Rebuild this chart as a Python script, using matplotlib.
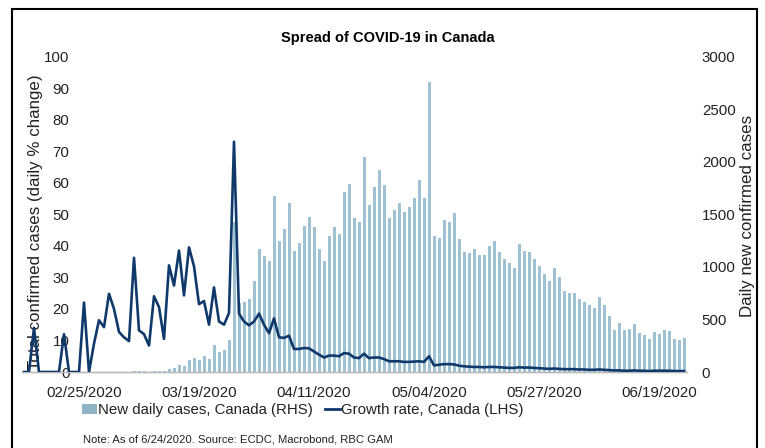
"""
Spread of COVID-19 in Canada: daily new cases (bars, RHS) and
daily growth rate of total confirmed cases (line, LHS).
"""

import matplotlib
matplotlib.use("Agg")
import matplotlib.pyplot as plt
import matplotlib.dates as mdates
from matplotlib.lines import Line2D
from matplotlib.patches import Patch
import pandas as pd

# ──────────────────────────────────────────────────────────────
# Data (13 Feb – 24 Jun 2020)
# ──────────────────────────────────────────────────────────────
start_date = "2020-02-13"
end_date = "2020-06-24"

new_cases = [
    0, 0, 1, 0, 0, 0, 0, 0, 1, 0, 0, 0, 2, 0,
    1, 2, 2, 4, 4, 3, 3, 3,
    12, 5, 5, 4, 12, 13, 8, 30, 35, 62, 55,
    111, 133, 111, 155, 123, 259, 190, 212, 307, 1430,
    660, 664, 693, 867, 1167, 1107, 1056, 1673, 1246, 1360,
    1610, 1154, 1230, 1389, 1471, 1382, 1167, 1060, 1297, 1382,
    1313, 1714, 1787, 1461, 1430, 2046, 1588, 1762, 1920, 1778,
    1461, 1540, 1604, 1525, 1572, 1651, 1825, 1651, 2758, 1294,
    1272, 1445, 1423, 1509, 1262, 1139, 1129, 1170, 1113, 1115,
    1195, 1243, 1138, 1075, 1037, 989, 1217, 1154, 1138, 1075,
    1011, 932, 869, 989, 903, 773, 751, 751, 697, 666,
    634, 609, 713, 634, 536, 403, 466, 396, 409, 460,
    371, 352, 314, 377, 361, 403, 387, 314, 307, 320,
]

growth_rate = [
    0, 0, 14, 0, 0, 0, 0, 0, 12, 0, 0, 0, 22, 0,
    9, 16.4, 14.2, 24.8, 20, 12.7, 11, 9.8,
    36.2, 13.2, 12, 8.4, 24, 20.6, 10.5, 33.8, 27.4, 38.5, 24.3,
    39.5, 33.5, 21.5, 22.5, 15, 26.8, 16, 15, 18.7, 73,
    18.5, 16, 14.8, 16, 18.5, 15, 12.3, 17, 11, 10.8,
    11.5, 7.3, 7.3, 7.6, 7.5, 6.5, 5.5, 4.6, 5.2, 5.2,
    5.0, 6.0, 5.8, 4.6, 4.4, 5.8, 4.4, 4.6, 4.6, 4.1,
    3.4, 3.4, 3.4, 3.2, 3.2, 3.3, 3.4, 3.2, 5.0, 2.1,
    2.3, 2.5, 2.5, 2.4, 2.0, 1.8, 1.7, 1.6, 1.6, 1.5,
    1.6, 1.6, 1.5, 1.4, 1.3, 1.3, 1.5, 1.4, 1.4, 1.3,
    1.2, 1.1, 1.0, 1.1, 1.0, 0.9, 0.9, 0.9, 0.8, 0.8,
    0.7, 0.7, 0.8, 0.7, 0.6, 0.5, 0.5, 0.4, 0.4, 0.5,
    0.4, 0.4, 0.3, 0.4, 0.4, 0.4, 0.4, 0.3, 0.3, 0.3,
]

tick_dates = ["2020-02-25", "2020-03-19", "2020-04-11",
              "2020-05-04", "2020-05-27", "2020-06-19"]
left_ticks = list(range(0, 101, 10))
right_ticks = list(range(0, 3001, 500))

# ──────────────────────────────────────────────────────────────
# Style
# ──────────────────────────────────────────────────────────────
_BAR_COL = "#9fc2d2"
_LEG_BAR_COL = "#8fb4c5"
_LINE_COL = "#10396b"
_TEXT_COL = "#222222"
_BASE_COL = "#bbbbbb"
_FONT = "Liberation Sans"

W, H = 765, 448
plt.rcParams["font.family"] = [_FONT, "DejaVu Sans"]


def fx(px):
    return px / W


def fy(py):
    return 1 - py / H


dates = pd.date_range(start_date, end_date, freq="D")

fig = plt.figure(figsize=(W / 100, H / 100), dpi=100, facecolor="white")

# plot box in pixels: x 21.5 → 686.5, y 56.5 → 372
ax = fig.add_axes([fx(21.5), fy(372), (686.5 - 21.5) / W, (372 - 56.5) / H])
ax2 = ax.twinx()

# bars on the right axis, line on the left axis drawn on top
ax2.bar(dates, new_cases, width=0.6, color=_BAR_COL, linewidth=0, zorder=1)
ax.plot(dates, growth_rate, color=_LINE_COL, linewidth=1.9,
        solid_joinstyle="round", zorder=3)
ax.set_zorder(ax2.get_zorder() + 1)
ax.patch.set_visible(False)

ax.set_xlim(dates[0] - pd.Timedelta(hours=12), dates[-1] + pd.Timedelta(hours=12))
ax.set_ylim(0, 100)
ax2.set_ylim(0, 3000)

ax.set_xticks(pd.to_datetime(tick_dates))
ax.xaxis.set_major_formatter(mdates.DateFormatter("%m/%d/%Y"))
ax.set_yticks(left_ticks)
ax2.set_yticks(right_ticks)

ax.tick_params(axis="x", length=0, pad=10, labelsize=10.8, colors=_TEXT_COL)
# left labels sit inside the plot box, right-aligned at x ≈ 70 px
ax.tick_params(axis="y", length=0, pad=-34.5, labelsize=10.8, colors=_TEXT_COL)
ax2.tick_params(axis="y", length=0, pad=11, labelsize=10.8, colors=_TEXT_COL)

for a in (ax, ax2):
    for side in ("top", "left", "right"):
        a.spines[side].set_visible(False)
    a.spines["bottom"].set_color(_BASE_COL)
    a.spines["bottom"].set_linewidth(1.0)

ax.set_ylabel("Total confirmed cases (daily % change)", fontsize=12.2, color=_TEXT_COL)
ax.yaxis.set_label_coords(0.033, 0.475)
ax2.set_ylabel("Daily new confirmed cases", fontsize=12.2, color=_TEXT_COL)
ax2.yaxis.set_label_coords(1.08, 0.494)

fig.text(fx(388), fy(38), "Spread of COVID-19 in Canada", ha="center", va="center",
         fontsize=10.5, fontweight="bold", color="black")

handles = [
    Patch(facecolor=_LEG_BAR_COL, edgecolor="none"),
    Line2D([], [], color=_LINE_COL, linewidth=2),
]
labels = ["New daily cases, Canada (RHS)", "Growth rate, Canada (LHS)"]
fig.legend(handles, labels, loc="center left", bbox_to_anchor=(fx(82), fy(410)),
           ncol=2, frameon=False, fontsize=10.8, handlelength=1.0,
           handleheight=0.7, handletextpad=0.1, columnspacing=0.75,
           borderpad=0, borderaxespad=0, labelcolor=_TEXT_COL)

fig.text(fx(83), fy(439), "Note: As of 6/24/2020. Source: ECDC, Macrobond, RBC GAM",
         ha="left", va="center", fontsize=8.1, color=_TEXT_COL)

# frame around the exhibit (open at the bottom, as in the cropped source)
for xs, ys in [([11.5, 11.5], [H, 9]), ([11.5, 757], [9, 9]), ([757, 757], [9, H])]:
    fig.add_artist(Line2D([fx(x) for x in xs], [fy(y) for y in ys],
                          color="black", linewidth=1.5))

fig.savefig("out.png", dpi=100, facecolor="white")
